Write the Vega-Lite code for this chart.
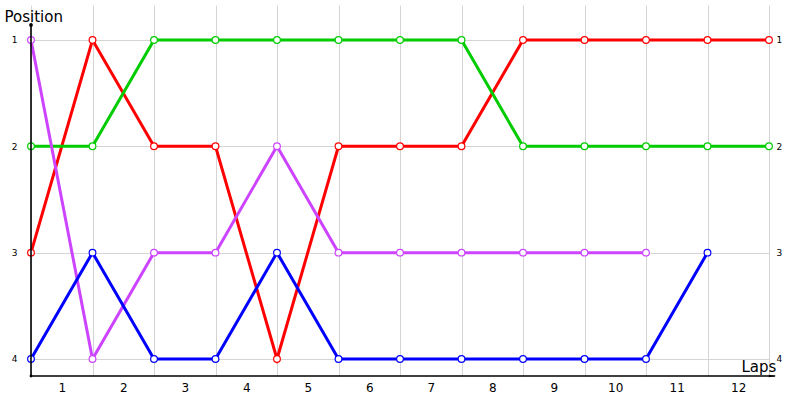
{
  "$schema": "https://vega.github.io/schema/vega-lite/v6.json",
  "width": 738,
  "height": 371,
  "autosize": "none",
  "padding": {"left": 31, "top": 5, "right": 31, "bottom": 24},
  "background": "white",
  "config": {
    "view": {"stroke": null},
    "font": "DejaVu Sans",
    "axis": {"labelFont": "DejaVu Sans", "titleFont": "DejaVu Sans", "labelColor": "black", "titleColor": "black", "titleFontWeight": "normal"}
  },
  "data": {
    "values": [
      {"lap": 0, "pos": 3, "car": "A"}, {"lap": 1, "pos": 1, "car": "A"}, {"lap": 2, "pos": 2, "car": "A"},
      {"lap": 3, "pos": 2, "car": "A"}, {"lap": 4, "pos": 4, "car": "A"}, {"lap": 5, "pos": 2, "car": "A"},
      {"lap": 6, "pos": 2, "car": "A"}, {"lap": 7, "pos": 2, "car": "A"}, {"lap": 8, "pos": 1, "car": "A"},
      {"lap": 9, "pos": 1, "car": "A"}, {"lap": 10, "pos": 1, "car": "A"}, {"lap": 11, "pos": 1, "car": "A"},
      {"lap": 12, "pos": 1, "car": "A"},
      {"lap": 0, "pos": 2, "car": "B"}, {"lap": 1, "pos": 2, "car": "B"}, {"lap": 2, "pos": 1, "car": "B"},
      {"lap": 3, "pos": 1, "car": "B"}, {"lap": 4, "pos": 1, "car": "B"}, {"lap": 5, "pos": 1, "car": "B"},
      {"lap": 6, "pos": 1, "car": "B"}, {"lap": 7, "pos": 1, "car": "B"}, {"lap": 8, "pos": 2, "car": "B"},
      {"lap": 9, "pos": 2, "car": "B"}, {"lap": 10, "pos": 2, "car": "B"}, {"lap": 11, "pos": 2, "car": "B"},
      {"lap": 12, "pos": 2, "car": "B"},
      {"lap": 0, "pos": 1, "car": "C"}, {"lap": 1, "pos": 4, "car": "C"}, {"lap": 2, "pos": 3, "car": "C"},
      {"lap": 3, "pos": 3, "car": "C"}, {"lap": 4, "pos": 2, "car": "C"}, {"lap": 5, "pos": 3, "car": "C"},
      {"lap": 6, "pos": 3, "car": "C"}, {"lap": 7, "pos": 3, "car": "C"}, {"lap": 8, "pos": 3, "car": "C"},
      {"lap": 9, "pos": 3, "car": "C"}, {"lap": 10, "pos": 3, "car": "C"},
      {"lap": 0, "pos": 4, "car": "D"}, {"lap": 1, "pos": 3, "car": "D"}, {"lap": 2, "pos": 4, "car": "D"},
      {"lap": 3, "pos": 4, "car": "D"}, {"lap": 4, "pos": 3, "car": "D"}, {"lap": 5, "pos": 4, "car": "D"},
      {"lap": 6, "pos": 4, "car": "D"}, {"lap": 7, "pos": 4, "car": "D"}, {"lap": 8, "pos": 4, "car": "D"},
      {"lap": 9, "pos": 4, "car": "D"}, {"lap": 10, "pos": 4, "car": "D"}, {"lap": 11, "pos": 3, "car": "D"}
    ]
  },
  "resolve": {"axis": {"y": "independent", "x": "independent"}},
  "layer": [
    {
      "mark": {"type": "line", "strokeWidth": 3},
      "encoding": {
        "x": {
          "field": "lap", "type": "quantitative",
          "scale": {"domain": [0, 12], "nice": false, "zero": false},
          "axis": {
            "values": [0, 1, 2, 3, 4, 5, 6, 7, 8, 9, 10, 11, 12],
            "grid": true, "gridColor": "#d4d4d4", "domain": false, "ticks": false,
            "labelOffset": 30.75, "labelFontSize": 12, "labelPadding": 6,
            "labelExpr": "datum.value < 12 ? datum.value + 1 : ''",
            "labelFlush": false, "labelOverlap": false,
            "title": "Laps", "titleFontSize": 15, "titleAlign": "left", "titleAnchor": null,
            "titleX": 710, "titleY": -5, "titleBaseline": "alphabetic"
          }
        },
        "y": {
          "field": "pos", "type": "quantitative",
          "scale": {"domain": [0.671, 4.16], "reverse": true, "nice": false, "zero": false},
          "axis": {
            "values": [1, 2, 3, 4], "format": "d", "grid": true, "gridColor": "#d4d4d4", "domain": false, "ticks": false,
            "labelFontSize": 9, "labelPadding": 14,
            "title": "Position", "titleFontSize": 15, "titleAngle": 0, "titleAlign": "left",
            "titleAnchor": null, "titleX": -27, "titleY": 16, "titleBaseline": "alphabetic"
          }
        },
        "color": {
          "field": "car", "type": "nominal",
          "scale": {"domain": ["A", "B", "C", "D"], "range": ["#ff0000", "#00cc00", "#cc44ff", "#0000ff"]},
          "legend": null
        }
      }
    },
    {
      "mark": {"type": "point", "filled": false, "fill": "white", "fillOpacity": 1, "size": 45, "strokeWidth": 1.2, "opacity": 1},
      "encoding": {
        "x": {"field": "lap", "type": "quantitative", "axis": null},
        "y": {
          "field": "pos", "type": "quantitative",
          "axis": {
            "orient": "right", "values": [1, 2, 3, 4], "format": "d", "grid": false, "domain": false, "ticks": false,
            "labelFontSize": 9, "labelPadding": 7, "title": null
          }
        },
        "color": {"field": "car", "type": "nominal", "legend": null}
      }
    },
    {
      "data": {"values": [{}]},
      "mark": {"type": "rule", "color": "black", "strokeWidth": 1.6},
      "encoding": {
        "x": {"datum": 0, "type": "quantitative", "axis": null},
        "x2": {"datum": 12.1},
        "y": {"datum": 4.16, "type": "quantitative", "axis": null}
      }
    },
    {
      "data": {"values": [{}]},
      "mark": {"type": "rule", "color": "black", "strokeWidth": 1.6},
      "encoding": {
        "x": {"datum": 0, "type": "quantitative", "axis": null},
        "y": {"datum": 0.859, "type": "quantitative", "axis": null},
        "y2": {"datum": 4.16}
      }
    },
    {
      "data": {"values": [{}]},
      "mark": {"type": "point", "shape": "M-1,-0.35L1,0L-1,0.35Z", "filled": true, "color": "black", "size": 45, "opacity": 1},
      "encoding": {
        "x": {"datum": 12.05, "type": "quantitative", "axis": null},
        "y": {"datum": 4.16, "type": "quantitative", "axis": null}
      }
    },
    {
      "data": {"values": [{}]},
      "mark": {"type": "circle", "color": "black", "size": 14, "opacity": 1},
      "encoding": {
        "x": {"datum": 0, "type": "quantitative", "axis": null},
        "y": {"datum": 0.859, "type": "quantitative", "axis": null}
      }
    },
    {
      "data": {"values": [{}]},
      "mark": {"type": "circle", "color": "black", "size": 8, "opacity": 1},
      "encoding": {
        "x": {"datum": 0, "type": "quantitative", "axis": null},
        "y": {"datum": 4.16, "type": "quantitative", "axis": null}
      }
    }
  ]
}
